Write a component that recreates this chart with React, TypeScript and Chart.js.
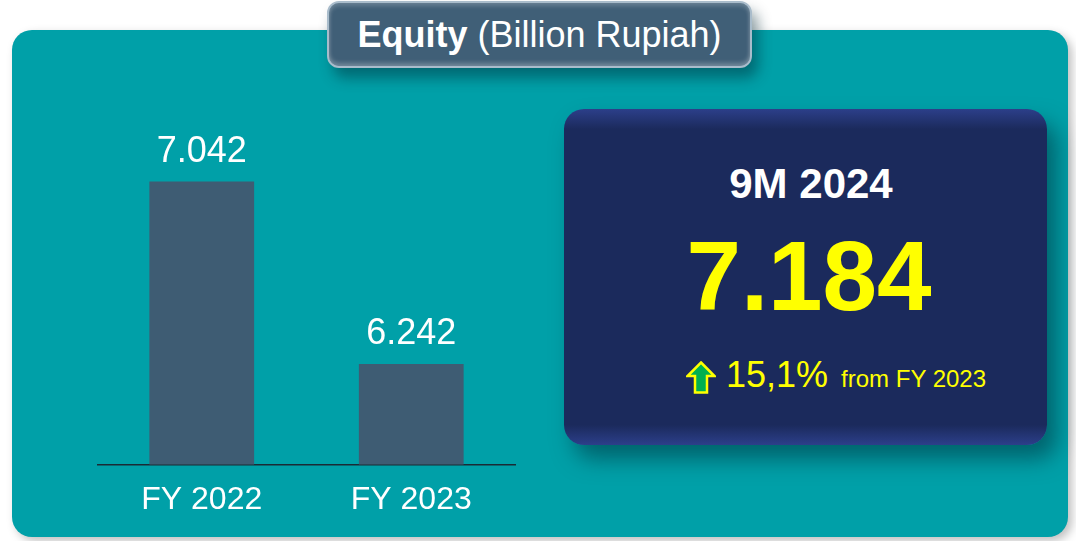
import React, { useEffect, useRef } from "react";
import { Chart, registerables } from "chart.js";

Chart.register(...registerables);

const categories = ["FY 2022", "FY 2023"];
const equityValues = [7042, 6242];
const yMin = 5800;
const yMax = 7400;
const titleBold = "Equity";
const titleRest = "(Billion Rupiah)";
const periodLabel = "9M 2024";
const currentValue = "7.184";
const growthValue = "15,1%";
const growthText = "from FY 2023";

const FONT = "'Liberation Sans', Arial, Helvetica, sans-serif";

const fmt = (v: number) => {
  const s = Math.round(v).toString();
  return s.replace(/\B(?=(\d{3})+(?!\d))/g, ".");
};

const labelPlugin = {
  id: "barLabels",
  afterDatasetsDraw(chart: any) {
    const { ctx } = chart;
    const meta = chart.getDatasetMeta(0);
    ctx.save();
    ctx.fillStyle = "#ffffff";
    ctx.font = `36px ${FONT}`;
    ctx.textAlign = "center";
    ctx.textBaseline = "alphabetic";
    meta.data.forEach((el: any, i: number) => {
      ctx.fillText(fmt(equityValues[i]), el.x, el.y - 20);
    });
    ctx.restore();
  },
};

export default function App() {
  const ref = useRef<HTMLCanvasElement>(null);
  useEffect(() => {
    if (!ref.current) return;
    const chart = new Chart(ref.current, {
      type: "bar",
      data: {
        labels: categories,
        datasets: [
          {
            data: equityValues,
            backgroundColor: "#3E5C73",
            borderWidth: 0,
            categoryPercentage: 1,
            barPercentage: 0.5,
          },
        ],
      },
      options: {
        animation: false,
        responsive: false,
        maintainAspectRatio: false,
        layout: { padding: { top: 0, left: 0, right: 0, bottom: 6 } },
        plugins: { legend: { display: false }, tooltip: { enabled: false } },
        scales: {
          x: {
            grid: { display: false, drawTicks: false },
            border: { display: true, color: "#1a2a35", width: 1.5 },
            ticks: {
              color: "#ffffff",
              font: { family: FONT, size: 32 },
              padding: 16,
            },
          },
          y: {
            display: false,
            min: yMin,
            max: yMax,
          },
        },
      },
      plugins: [labelPlugin],
    });
    return () => chart.destroy();
  }, []);

  return (
    <div
      style={{
        position: "fixed",
        left: 0,
        top: 0,
        width: 1076,
        height: 541,
        background: "#ffffff",
        overflow: "hidden",
        fontFamily: FONT,
      }}
    >
      <div
        style={{
          position: "absolute",
          left: 12,
          top: 30,
          width: 1056,
          height: 507,
          borderRadius: 20,
          background: "#00A0A8",
          boxShadow: "4px 4px 10px rgba(0,0,0,0.25)",
        }}
      />
      <canvas
        ref={ref}
        width={419}
        height={441}
        style={{ position: "absolute", left: 97, top: 100, width: 419, height: 441 }}
      />
      <div
        style={{
          position: "absolute",
          left: 564,
          top: 109,
          width: 483,
          height: 336,
          borderRadius: 20,
          background: "linear-gradient(180deg, #2c3f8a 0%, #1B2A5C 6%, #1B2A5C 94%, #2c3f8a 100%)",
          boxShadow: "10px 14px 22px rgba(0,50,60,0.55)",
        }}
      />
      <div
        style={{
          position: "absolute",
          left: 564,
          top: 160,
          width: 494,
          textAlign: "center",
          color: "#ffffff",
          fontWeight: "bold",
          fontSize: 42,
          lineHeight: "48px",
        }}
      >
        {periodLabel}
      </div>
      <div
        style={{
          position: "absolute",
          left: 564,
          top: 220,
          width: 490,
          textAlign: "center",
          color: "#FFFF00",
          fontWeight: "bold",
          fontSize: 98,
          lineHeight: "112px",
        }}
      >
        {currentValue}
      </div>
      <div
        style={{
          position: "absolute",
          left: 686,
          top: 354,
          height: 44,
          display: "flex",
          alignItems: "baseline",
          color: "#FFFF00",
          whiteSpace: "nowrap",
        }}
      >
        <svg width="30" height="33" viewBox="0 0 30 33" style={{ alignSelf: "center", marginRight: 10, marginTop: 3 }}>
          <polygon
            points="15,1.5 28.5,15 21,15 21,31.5 9,31.5 9,15 1.5,15"
            fill="#00B050"
            stroke="#FFFF00"
            strokeWidth="2.5"
            strokeLinejoin="miter"
          />
        </svg>
        <span style={{ fontSize: 36 }}>{growthValue}</span>
        <span style={{ fontSize: 24, marginLeft: 13 }}>{growthText}</span>
      </div>
      <div
        style={{
          position: "absolute",
          left: 327,
          top: 1,
          width: 425,
          height: 67,
          boxSizing: "border-box",
          borderRadius: 12,
          background: "#405F77",
          border: "2px solid #a9bccb",
          boxShadow:
            "inset 0 -3px 4px rgba(255,255,255,0.25), inset 0 3px 4px rgba(255,255,255,0.2), 6px 10px 14px rgba(0,40,50,0.45)",
          color: "#ffffff",
          display: "flex",
          alignItems: "center",
          justifyContent: "center",
          fontSize: 36,
          whiteSpace: "nowrap",
        }}
      >
        <span style={{ fontWeight: "bold", marginRight: 10 }}>{titleBold}</span>
        <span>{titleRest}</span>
      </div>
    </div>
  );
}
